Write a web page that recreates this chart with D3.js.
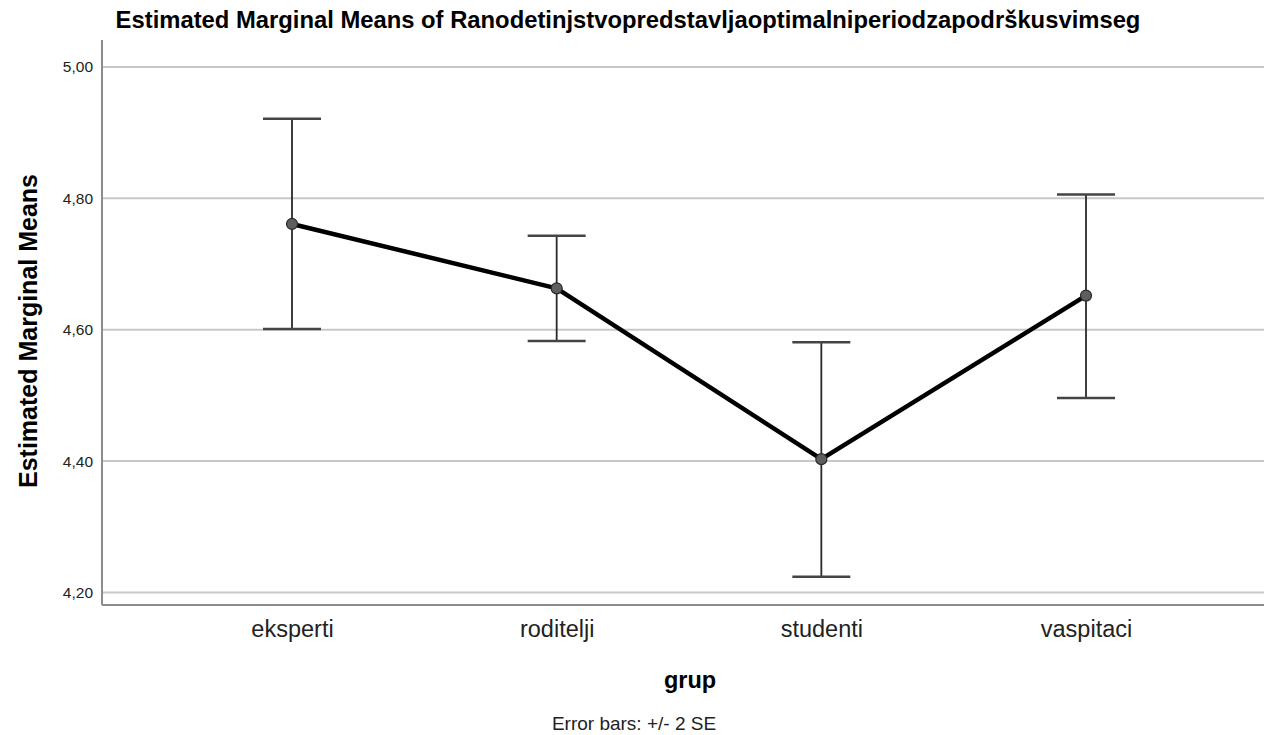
<!DOCTYPE html>
<html>
<head>
<meta charset="utf-8">
<script src="https://cdn.jsdelivr.net/npm/d3@7"></script>
<style>
  body { margin: 0; background: #fff; }
  text { font-family: "Liberation Sans", Arial, sans-serif; }
</style>
</head>
<body>
<svg id="chart" width="1264" height="735"></svg>
<script>
const groups = ["eksperti", "roditelji", "studenti", "vaspitaci"];
const means = [4.761, 4.663, 4.403, 4.652];
const lowerSE = [4.601, 4.583, 4.224, 4.496];
const upperSE = [4.921, 4.743, 4.581, 4.806];
const yTicks = [4.2, 4.4, 4.6, 4.8, 5.0];

const title = "Estimated Marginal Means of Ranodetinjstvopredstavljaoptimalniperiodzapodrškusvimseg";

const gridColor = "#c8c8c8";
const axisColor = "#8c8c8c";

const plotLeft = 102, plotRight = 1264, plotTop = 40, plotBottom = 605;

const svg = d3.select("#chart");

const x = d3.scalePoint().domain(groups).range([292, 1086]);
const y = d3.scaleLinear().domain([4.181, 5.041]).range([plotBottom, plotTop]);

const fmt = (v) => d3.format(".2f")(v).replace(".", ",");

// gridlines
svg.append("g")
    .selectAll("line")
    .data(yTicks)
    .join("line")
    .attr("x1", plotLeft)
    .attr("x2", plotRight)
    .attr("y1", (d) => y(d))
    .attr("y2", (d) => y(d))
    .attr("stroke", gridColor)
    .attr("stroke-width", 2);

// y axis
const yAxis = svg.append("g")
    .attr("transform", `translate(${plotLeft},0)`)
    .call(d3.axisLeft(y).tickValues(yTicks).tickFormat(fmt).tickSize(0).tickPadding(9));
yAxis.select(".domain").remove();
yAxis.selectAll("text")
    .style("font-family", "Liberation Sans, Arial, sans-serif")
    .style("font-size", "15.5px")
    .attr("fill", "#222");

// axis lines
svg.append("line")
    .attr("x1", plotLeft).attr("x2", plotLeft)
    .attr("y1", plotTop).attr("y2", plotBottom)
    .attr("stroke", axisColor).attr("stroke-width", 2);
svg.append("line")
    .attr("x1", plotLeft).attr("x2", plotRight)
    .attr("y1", plotBottom).attr("y2", plotBottom)
    .attr("stroke", axisColor).attr("stroke-width", 2);

// x axis labels
const xAxis = svg.append("g")
    .attr("transform", `translate(0,${plotBottom})`)
    .call(d3.axisBottom(x).tickSize(0).tickPadding(15));
xAxis.select(".domain").remove();
xAxis.selectAll("text")
    .style("font-family", "Liberation Sans, Arial, sans-serif")
    .style("font-size", "23.5px")
    .attr("fill", "#222");

// error bars
const bars = svg.append("g")
    .selectAll("g")
    .data(groups)
    .join("g");

bars.append("line")
    .attr("x1", (d) => x(d)).attr("x2", (d) => x(d))
    .attr("y1", (d, i) => y(upperSE[i]))
    .attr("y2", (d, i) => y(lowerSE[i]))
    .attr("stroke", "#2a2a2a")
    .attr("stroke-width", 1.8);

bars.selectAll("line.cap")
    .data((d, i) => [[d, upperSE[i]], [d, lowerSE[i]]])
    .join("line")
    .attr("class", "cap")
    .attr("x1", (c) => x(c[0]) - 29)
    .attr("x2", (c) => x(c[0]) + 29)
    .attr("y1", (c) => y(c[1]))
    .attr("y2", (c) => y(c[1]))
    .attr("stroke", "#444")
    .attr("stroke-width", 2.5);

// means line
const line = d3.line()
    .x((d) => x(d))
    .y((d, i) => y(means[i]));

svg.append("path")
    .datum(groups)
    .attr("d", line)
    .attr("fill", "none")
    .attr("stroke", "#000")
    .attr("stroke-width", 4.5)
    .attr("stroke-linejoin", "round");

svg.append("g")
    .selectAll("circle")
    .data(groups)
    .join("circle")
    .attr("cx", (d) => x(d))
    .attr("cy", (d, i) => y(means[i]))
    .attr("r", 5.5)
    .attr("fill", "#5e5e5e")
    .attr("stroke", "#2a2a2a")
    .attr("stroke-width", 1.2);

// titles
svg.append("text")
    .attr("x", 628)
    .attr("y", 28)
    .attr("text-anchor", "middle")
    .style("font-size", "23.8px")
    .style("font-weight", "bold")
    .attr("fill", "#000")
    .text(title);

svg.append("text")
    .attr("transform", `translate(37,331) rotate(-90)`)
    .attr("text-anchor", "middle")
    .style("font-size", "25px")
    .style("font-weight", "bold")
    .attr("fill", "#000")
    .text("Estimated Marginal Means");

svg.append("text")
    .attr("x", 690)
    .attr("y", 688)
    .attr("text-anchor", "middle")
    .style("font-size", "23.5px")
    .style("font-weight", "bold")
    .attr("fill", "#000")
    .text("grup");

svg.append("text")
    .attr("x", 634)
    .attr("y", 730)
    .attr("text-anchor", "middle")
    .style("font-size", "19px")
    .attr("fill", "#222")
    .text("Error bars: +/- 2 SE");
</script>
</body>
</html>
